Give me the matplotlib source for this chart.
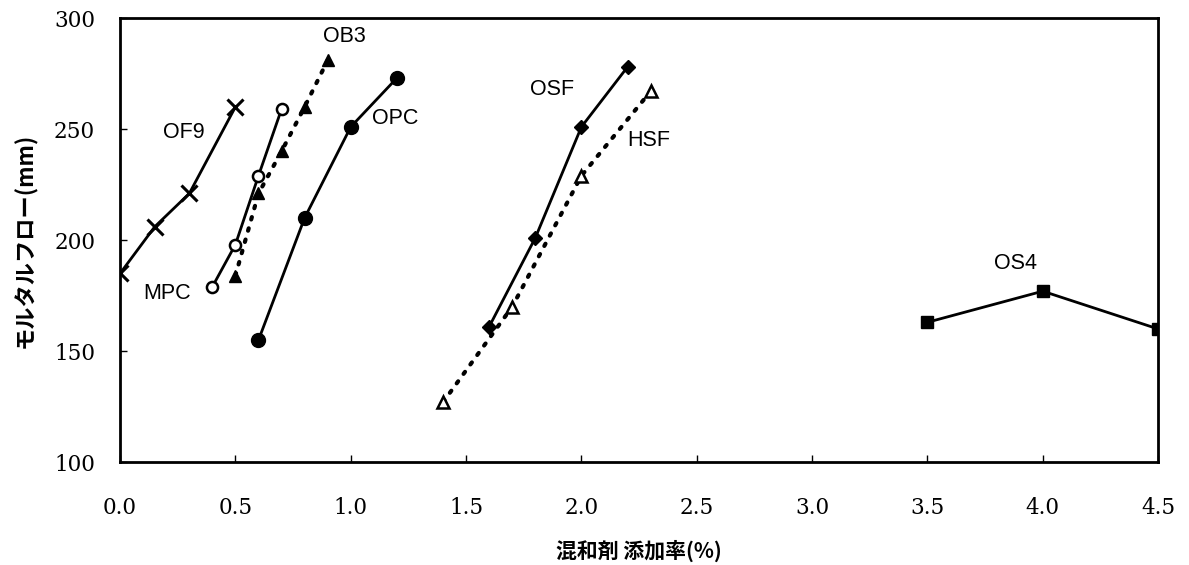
#! /usr/bin/env python3

import matplotlib
matplotlib.use("Agg")
from matplotlib import pyplot as plt

# mortar flow (mm) vs admixture dosage (%)
of9_x = [0.0, 0.15, 0.3, 0.5]
of9_y = [185, 206, 221, 260]

mpc_x = [0.4, 0.5, 0.6, 0.7]
mpc_y = [179, 198, 229, 259]

ob3_x = [0.5, 0.6, 0.7, 0.8, 0.9]
ob3_y = [184, 221, 240, 260, 281]

opc_x = [0.6, 0.8, 1.0, 1.2]
opc_y = [155, 210, 251, 273]

osf_x = [1.6, 1.8, 2.0, 2.2]
osf_y = [161, 201, 251, 278]

hsf_x = [1.4, 1.7, 2.0, 2.3]
hsf_y = [127, 170, 229, 267]

os4_x = [3.5, 4.0, 4.5]
os4_y = [163, 177, 160]

x_ticks = [0.0, 0.5, 1.0, 1.5, 2.0, 2.5, 3.0, 3.5, 4.0, 4.5]
y_ticks = [100, 150, 200, 250, 300]

jp = ["Noto Sans CJK JP", "DejaVu Sans"]
label_font = ["Liberation Sans", "DejaVu Sans"]

fig = plt.figure(figsize=(11.89, 5.65), dpi=100)
ax = fig.add_axes([0.101, 0.182, 0.873, 0.786])

solid = dict(color="black", linewidth=2, linestyle="-")
dotted = dict(color="black", linewidth=3, linestyle=(0, (0.6, 2.2)), dash_capstyle="round")

ax.plot(of9_x, of9_y, marker="x", markersize=11, markeredgewidth=2.2, **solid)
ax.plot(mpc_x, mpc_y, marker="o", markersize=8, markerfacecolor="white",
        markeredgewidth=1.8, **solid)
ax.plot(ob3_x, ob3_y, marker="^", markersize=9, markerfacecolor="black",
        markeredgecolor="black", **dotted)
ax.plot(opc_x, opc_y, marker="o", markersize=10, markerfacecolor="black", **solid)
ax.plot(osf_x, osf_y, marker="D", markersize=7, markerfacecolor="black", **solid)
ax.plot(hsf_x, hsf_y, marker="^", markersize=9, markerfacecolor="white",
        markeredgecolor="black", markeredgewidth=1.8, **dotted)
ax.plot(os4_x, os4_y, marker="s", markersize=9, markerfacecolor="black", **solid)

# series names placed next to their curves
labels = [
    ("OF9", 0.187, 248.5),
    ("MPC", 0.10, 176),
    ("OB3", 0.88, 291.5),
    ("OPC", 1.09, 255),
    ("OSF", 1.775, 268),
    ("HSF", 2.2, 245),
    ("OS4", 3.79, 189.5),
]
for text, x, y in labels:
    ax.text(x, y, text, fontsize=15.5, family=label_font, va="center", ha="left")

ax.set_xlim(0, 4.5)
ax.set_ylim(100, 300)
ax.set_xticks(x_ticks)
ax.set_yticks(y_ticks)
ax.set_xticklabels(["{:.1f}".format(v) for v in x_ticks], family="DejaVu Serif", fontsize=15.5)
ax.set_yticklabels([str(v) for v in y_ticks], family="DejaVu Serif", fontsize=15.5)
ax.tick_params(direction="in", length=5, width=1)
ax.tick_params(axis="x", pad=25)
ax.tick_params(axis="y", pad=18)
for spine in ax.spines.values():
    spine.set_linewidth(2)

ax.set_xlabel("混和剤 添加率(%)", family=jp, fontsize=15, fontweight="bold", labelpad=15)
ax.set_ylabel("モルタルフロー(mm)", family=jp, fontsize=16, fontweight="bold", labelpad=12)

fig.savefig("out.png", dpi=100)
